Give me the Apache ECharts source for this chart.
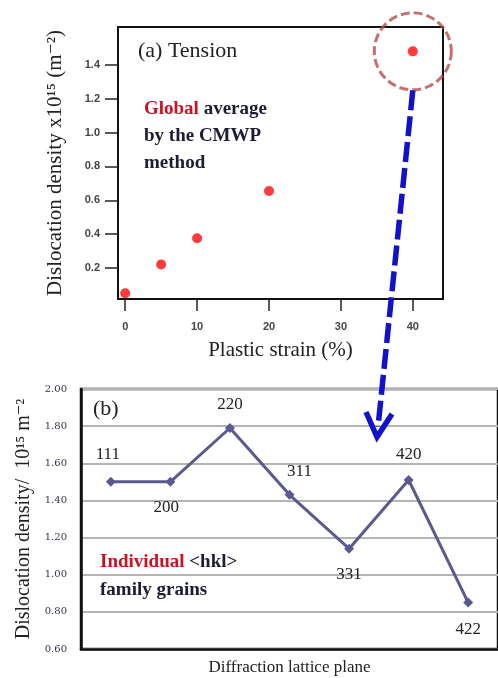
<!DOCTYPE html>
<html>
<head>
<meta charset="utf-8">
<script src="https://cdn.jsdelivr.net/npm/echarts@6/dist/echarts.min.js"></script>
<style>html,body{margin:0;padding:0;background:#fff;}#c{width:498px;height:678px;}</style>
</head>
<body>
<div id="c"></div>
<script>
// (a) Tension: global average by CMWP
const strainValues = [0, 5, 10, 20, 40];
const densityValues = [0.05, 0.22, 0.375, 0.655, 1.48];
const strainTicks = [0, 10, 20, 30, 40];
const densityTicks = [0.2, 0.4, 0.6, 0.8, 1.0, 1.2, 1.4];
const circledIndex = 4;

// (b) Individual <hkl> family grains
const planes = ['111', '200', '220', '311', '331', '420', '422'];
const planeDensity = [1.50, 1.50, 1.79, 1.43, 1.14, 1.51, 0.85];

const labelPos = ['top', 'bottom', 'top', 'top', 'bottom', 'top', 'bottom'];
const labelOff = [[-3, -4], [-4, 2], [0, 0], [10, 0], [0, 2], [0, -2], [0, 3]];

const serif = '"Liberation Serif", "DejaVu Serif", serif';
const dark = '#1c1c34';

const chart = echarts.init(document.getElementById('c'));
const option = {
  backgroundColor: '#fff',
  animation: false,
  grid: [
    {left: 118, top: 27, width: 325, height: 272, show: true, borderColor: '#111', borderWidth: 2, backgroundColor: 'transparent'},
    {left: 81, top: 389, width: 423, height: 260, show: true, borderColor: '#111', borderWidth: 2.5, backgroundColor: 'transparent'}
  ],
  xAxis: [
    {
      gridIndex: 0, type: 'value', min: -1, max: 44.2,
      name: 'Plastic strain (%)', nameLocation: 'middle', nameGap: 41,
      nameTextStyle: {fontFamily: serif, fontSize: 21, color: '#222'},
      axisLine: {show: true, onZero: false, lineStyle: {color: '#111', width: 2}},
      axisTick: {show: true, length: 12, customValues: strainTicks, lineStyle: {color: '#222', width: 1.5}},
      axisLabel: {customValues: strainTicks, margin: 22, fontFamily: '"Liberation Sans", sans-serif', fontWeight: 'bold', fontSize: 11, color: '#444'},
      splitLine: {show: false}
    },
    {
      gridIndex: 1, type: 'category', data: planes, boundaryGap: true,
      name: 'Diffraction lattice plane', nameLocation: 'middle', nameGap: 10,
      nameTextStyle: {fontFamily: serif, fontSize: 17, color: '#222', verticalAlign: 'top'},
      axisLine: {show: true, onZero: false, lineStyle: {color: '#111', width: 2.5}},
      axisTick: {show: false},
      axisLabel: {show: false}
    }
  ],
  yAxis: [
    {
      gridIndex: 0, type: 'value', min: 0.0165, max: 1.624,
      name: 'Dislocation density x10\u00b9\u2075 (m\u207b\u00b2)', nameLocation: 'middle', nameGap: 52, nameRotate: 90,
      nameTextStyle: {fontFamily: serif, fontSize: 21, color: '#222'},
      axisLine: {show: true, onZero: false, lineStyle: {color: '#111', width: 2}},
      axisTick: {show: true, length: 13, customValues: densityTicks, lineStyle: {color: '#222', width: 1.5}},
      axisLabel: {customValues: densityTicks, margin: 18, formatter: v => v.toFixed(1), fontFamily: '"Liberation Sans", sans-serif', fontWeight: 'bold', fontSize: 11, color: '#444'},
      splitLine: {show: false}
    },
    {
      gridIndex: 1, type: 'value', min: 0.6, max: 2.0, interval: 0.2,
      name: 'Dislocation density/  10\u00b9\u2075 m\u207b\u00b2', nameLocation: 'middle', nameGap: 46, nameRotate: 90,
      nameTextStyle: {fontFamily: serif, fontSize: 20, color: '#222'},
      axisLine: {show: true, onZero: false, lineStyle: {color: '#111', width: 2.5}},
      axisTick: {show: false},
      axisLabel: {margin: 14, formatter: v => v.toFixed(2), fontFamily: '"DejaVu Serif", serif', fontSize: 10, color: '#34344a'},
      splitLine: {show: true, lineStyle: {color: '#b4b4b4', width: 2}}
    }
  ],
  series: [
    {
      type: 'scatter', xAxisIndex: 0, yAxisIndex: 0,
      data: strainValues.map((x, i) => [x, densityValues[i]]),
      symbolSize: 10, itemStyle: {color: '#ff0a0a'}
    },
    {
      type: 'scatter', xAxisIndex: 0, yAxisIndex: 0, silent: true, z: 1,
      data: [[strainValues[circledIndex], densityValues[circledIndex]]],
      symbol: 'circle', symbolSize: 77,
      itemStyle: {color: 'rgba(0,0,0,0)', borderColor: '#b44c4c', borderWidth: 3, borderType: [9, 4]}
    },
    {
      type: 'line', xAxisIndex: 1, yAxisIndex: 1,
      data: planeDensity.map((v, i) => ({
        value: v,
        label: {position: labelPos[i], offset: labelOff[i]}
      })),
      symbol: 'diamond', symbolSize: 10,
      lineStyle: {color: '#5a5a90', width: 3},
      itemStyle: {color: '#5a5a90'},
      label: {show: true, formatter: p => planes[p.dataIndex], fontFamily: serif, fontSize: 17, color: '#222', distance: 10}
    }
  ],
  graphic: [
    {id: 'ta', type: 'text', left: 138, top: 40, style: {text: '(a) Tension', font: '22px ' + serif, fill: '#222'}},
    {id: 'tg', type: 'text', left: 144, top: 96, style: {
      text: '{r|Global} average\nby the CMWP\nmethod',
      font: 'bold 19px ' + serif, fill: dark, lineHeight: 27,
      rich: {r: {fill: '#cc1122', font: 'bold 19px ' + serif}}
    }},
    {id: 'tb', type: 'text', left: 93, top: 398, style: {text: '(b)', font: '22px ' + serif, fill: '#222'}},
    {id: 'ti', type: 'text', left: 100, top: 548, style: {
      text: '{r|Individual} <hkl>\nfamily grains',
      font: 'bold 19px ' + serif, fill: dark, lineHeight: 28,
      rich: {r: {fill: '#cc1122', font: 'bold 19px ' + serif}}
    }}
  ]
};
chart.setOption(option);

// annotation arrow from the circled point down to panel (b)
const p = chart.convertToPixel({gridIndex: 0}, [strainValues[circledIndex], densityValues[circledIndex]]);
const tip = [377, 437];
chart.setOption({
  graphic: [
    {id: 'arrowLine', type: 'line', z: 50, shape: {x1: p[0], y1: p[1] + 39, x2: tip[0] + 1, y2: tip[1] - 10},
      style: {stroke: '#1212cc', lineWidth: 5.5, lineDash: [20, 6]}},
    {id: 'arrowHead', type: 'polyline', z: 50, shape: {points: [[366, 412], tip, [392, 414]]},
      style: {stroke: '#1212cc', lineWidth: 5.5, fill: null, lineJoin: 'miter'}}
  ]
});
</script>
</body>
</html>
